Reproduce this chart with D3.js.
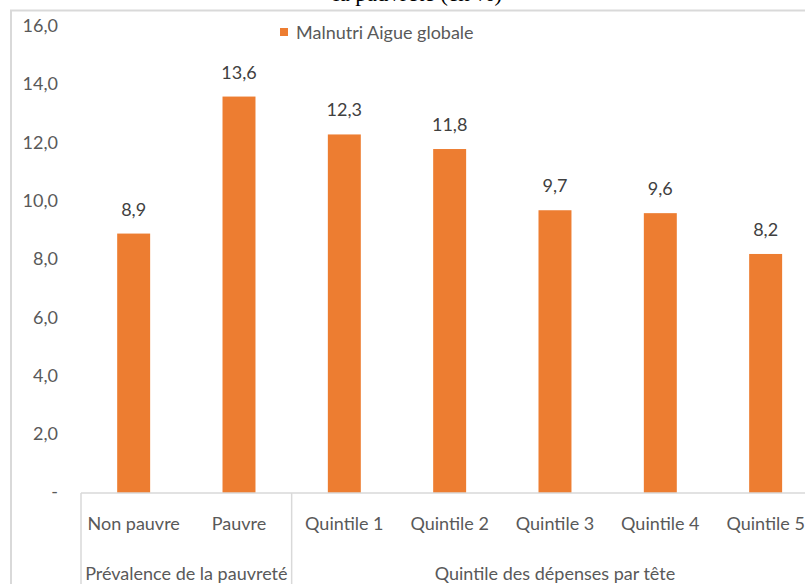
<!DOCTYPE html>
<html><head><meta charset="utf-8">
<script src="https://cdn.jsdelivr.net/npm/d3@7"></script>
<style>
html,body{margin:0;padding:0;background:#fff;overflow:hidden;}
svg{display:block;}
text{font-family:Lato,"Open Sans",sans-serif;}
</style></head>
<body>
<svg id="c" width="805" height="584"></svg>
<script>
const categories = ["Non pauvre","Pauvre","Quintile 1","Quintile 2","Quintile 3","Quintile 4","Quintile 5"];
const values = [8.9,13.6,12.3,11.8,9.7,9.6,8.2];
const groups = [{label:"Prévalence de la pauvreté", from:0, to:2},{label:"Quintile des dépenses par tête", from:2, to:7}];
const yTicks = [0,2,4,6,8,10,12,14,16];
const seriesName = "Malnutri Aigue globale";
const titleTail = "la pauvreté (en %)";

const svg = d3.select("#c");
const W = 805, H = 584;
const x0 = 81, step = 105.33, n = categories.length;
const yBase = 493, yTop = 26.6;

const x = d3.scaleBand().domain(categories).range([x0, x0 + step*n]).paddingInner(0.687).paddingOuter(0.3435);
const y = d3.scaleLinear().domain([0,16]).range([yBase, yTop]);

// cropped title (only its lower edge shows, as in the reference)
svg.append("text").attr("x", 333).attr("y", 1)
  .style("font-family","'Liberation Serif',serif").attr("font-size",23).attr("fill","#000").text(titleTail);

// chart border
svg.append("rect").attr("x", 11).attr("y", 10.5).attr("width", 820).attr("height", 600)
  .attr("fill","none").attr("stroke","#d9d9d9").attr("stroke-width",2);

// y labels
svg.append("g").selectAll("text").data(yTicks).join("text")
  .attr("x", 58).attr("y", d => y(d)).attr("dy","0.3em").attr("text-anchor","end")
  .attr("font-size",18).attr("fill","#595959")
  .text(d => d === 0 ? "-" : d3.format(".1f")(d).replace(".", ","));

// bars
svg.append("g").selectAll("rect").data(values).join("rect")
  .attr("x",(d,i)=>x(categories[i])).attr("width",x.bandwidth())
  .attr("y",d=>y(d)).attr("height",d=>yBase-y(d)).attr("fill","#ED7D31");

// value labels
svg.append("g").selectAll("text").data(values).join("text")
  .attr("x",(d,i)=>x(categories[i])+x.bandwidth()/2).attr("y",d=>y(d)-18)
  .attr("text-anchor","middle").attr("font-size",18).attr("fill","#404040")
  .text(d=>d3.format(".1f")(d).replace(".", ","));

// x axis line
svg.append("line").attr("x1",x0).attr("x2",x0+step*n).attr("y1",yBase).attr("y2",yBase)
  .attr("stroke","#d9d9d9").attr("stroke-width",1.5);

// group separators
const bounds = [0,2,7];
svg.append("g").selectAll("line").data(bounds).join("line")
  .attr("x1",d=>x0+step*d).attr("x2",d=>x0+step*d).attr("y1",yBase).attr("y2",H+5)
  .attr("stroke","#d9d9d9").attr("stroke-width",1.5);

// category labels
svg.append("g").selectAll("text").data(categories).join("text")
  .attr("x",d=>x(d)+x.bandwidth()/2).attr("y",530).attr("text-anchor","middle")
  .attr("font-size",18).attr("fill","#595959").text(d=>d);

// group labels
svg.append("g").selectAll("text").data(groups).join("text")
  .attr("x",d=>x0+step*(d.from+d.to)/2).attr("y",580).attr("text-anchor","middle")
  .attr("font-size",18).attr("fill","#595959").text(d=>d.label);

// legend
svg.append("rect").attr("x",280).attr("y",28).attr("width",8).attr("height",8).attr("fill","#ED7D31");
svg.append("text").attr("x",296).attr("y",38.5).attr("font-size",18).attr("fill","#595959").text(seriesName);
</script>
</body></html>
